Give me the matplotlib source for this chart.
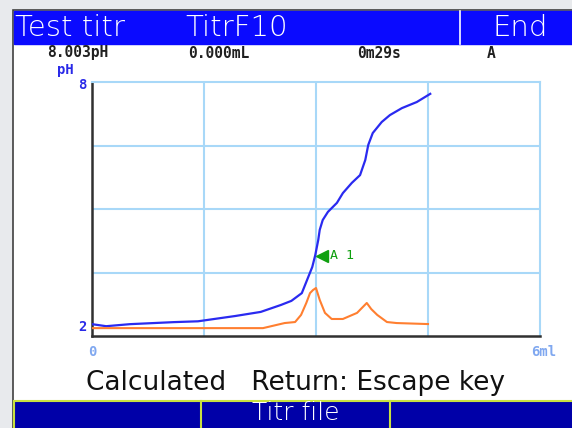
#!/usr/bin/env python3
import matplotlib

matplotlib.use("Agg")
import matplotlib.pyplot as plt  # noqa: E402
from matplotlib.patches import Rectangle  # noqa: E402
from matplotlib.transforms import ScaledTranslation  # noqa: E402

W, H = 572, 428

# titration curve (volume in mL, pH)
vol_ml = [0.00, 0.19, 0.51, 1.10, 1.42, 1.65, 1.92, 2.09, 2.26, 2.53, 2.67, 2.81,
          2.88, 2.95, 2.99, 3.03, 3.05, 3.09, 3.16, 3.28, 3.36, 3.48, 3.59, 3.66,
          3.70, 3.76, 3.88, 3.99, 4.15, 4.35, 4.53]
ph = [2.07, 2.02, 2.07, 2.12, 2.14, 2.20, 2.27, 2.32, 2.37, 2.54, 2.64, 2.83,
      3.15, 3.47, 3.76, 4.13, 4.38, 4.62, 4.82, 5.04, 5.28, 5.53, 5.72, 6.09,
      6.46, 6.75, 7.02, 7.19, 7.36, 7.51, 7.71]

# derivative curve (arbitrary units, 0-100 of plot height)
dvol_ml = [0.00, 2.29, 2.58, 2.72, 2.80, 2.87, 2.92, 2.96, 3.00, 3.05, 3.12, 3.21,
           3.36, 3.55, 3.64, 3.68, 3.74, 3.82, 3.95, 4.08, 4.50]
dph = [3.1, 3.1, 5.1, 5.5, 8.3, 13.0, 16.9, 18.1, 18.9, 14.2, 9.1, 6.7,
       6.7, 9.1, 11.8, 13.0, 10.6, 8.3, 5.5, 5.1, 4.7]

A1_ML, A1_PH = 3.0, 3.74

HEADER = ["Test titr", "TitrF10", "End"]
STATUS = ["8.003pH", "0.000mL", "0m29s", "A"]
FOOTER = "Calculated   Return: Escape key"
SOFTKEYS = ["", "Titr file", ""]


def fx(x):
    return x / W


def fy(y):
    return 1 - y / H


def rect(fig, x0, y0, x1, y1, **kw):
    fig.add_artist(Rectangle((fx(x0), fy(y1)), fx(x1) - fx(x0), fy(y0) - fy(y1),
                             transform=fig.transFigure, **kw))


def draw_screen(fig):
    rect(fig, 0, 0, W, H, color="#e8eaed", zorder=-5)
    rect(fig, 13, 10, W + 5, H + 5, facecolor="white", edgecolor="#404040", lw=1.2, zorder=-4)

    # header bar
    rect(fig, 14, 11, W + 5, 44, color="#0a0aff", zorder=-3)
    fig.add_artist(plt.Line2D([fx(460), fx(460)], [fy(11), fy(44)], color="white", lw=1.2,
                              transform=fig.transFigure))
    hk = dict(color="white", fontsize=21, va="center", fontweight=200)
    fig.text(fx(15), fy(28), HEADER[0], **hk)
    fig.text(fx(185), fy(28), HEADER[1], **hk)
    fig.text(fx(520), fy(28), HEADER[2], ha="center", **hk)

    sk = dict(color="#202020", fontsize=10.5, family="DejaVu Sans Mono", va="center",
              fontweight="bold")
    for x, s in zip([47, 188, 357, 487], STATUS):
        fig.text(fx(x), fy(53), s, **sk)

    fig.text(fx(296), fy(383), FOOTER, color="#111111", fontsize=19,
             ha="center", va="center")

    # soft key bar
    rect(fig, 14, 401, W + 5, H + 5, facecolor="#0000a8", edgecolor="#c8e040", lw=1.5, zorder=-3)
    for x in (201, 390):
        fig.add_artist(plt.Line2D([fx(x), fx(x)], [fy(401), fy(H)], color="#c8e040", lw=1.5,
                                  transform=fig.transFigure))
    for xc, s in zip([107, 296, 481], SOFTKEYS):
        fig.text(fx(xc), fy(413), s, color="white", fontsize=18, fontweight=200,
                 ha="center", va="center")


def draw_plot(fig):
    ax = fig.add_axes([fx(92), fy(336), fx(540) - fx(92), fy(82) - fy(336)])
    ax.set_xlim(0, 6)
    ax.set_ylim(1.78, 8)
    grid = "#a8d8f8"
    y0, y1 = ax.get_ylim()
    for f in (0.25, 0.5, 0.75):
        ax.axhline(y0 + f * (y1 - y0), color=grid, lw=1.5, zorder=1)
    for x in (1.5, 3.0, 4.5):
        ax.axvline(x, color=grid, lw=1.5, zorder=1)
    for side in ("top", "right"):
        ax.spines[side].set_color(grid)
        ax.spines[side].set_linewidth(1.5)
    for side in ("left", "bottom"):
        ax.spines[side].set_color("#303030")
        ax.spines[side].set_linewidth(1.8)
    ax.set_xticks([])
    ax.set_yticks([])

    ax.plot(vol_ml, ph, color="#2a2af0", lw=1.6, zorder=4)

    ax2 = ax.twinx()
    ax2.set_ylim(0, 100)
    ax2.axis("off")
    ax2.plot(dvol_ml, dph, color="#ff7f30", lw=1.5, zorder=3)

    off = ScaledTranslation(6 / 100, 0, fig.dpi_scale_trans)
    ax.plot([A1_ML], [A1_PH], marker="<", color="#10a010", markersize=8, ls="none",
            transform=ax.transData + off, zorder=5)
    ax.annotate("A 1", (A1_ML, A1_PH), xytext=(10, 0), textcoords="offset points",
                color="#10a010", fontsize=9.5, va="center", family="DejaVu Sans Mono")

    blue, light = "#2a2ae8", "#80a8f0"
    lk = dict(fontsize=10, family="DejaVu Sans Mono", va="center", fontweight="bold")
    fig.text(fx(57), fy(70), "pH", color=blue, **lk)
    fig.text(fx(78), fy(85), "8", color=blue, **lk)
    fig.text(fx(78), fy(327), "2", color=blue, **lk)
    fig.text(fx(88), fy(352), "0", color=light, **lk)
    fig.text(fx(556), fy(352), "6ml", color=light, ha="right", **lk)


def main():
    fig = plt.figure(figsize=(W / 100, H / 100), dpi=100)
    draw_screen(fig)
    draw_plot(fig)
    fig.savefig("out.png", dpi=100)
    plt.close(fig)


if __name__ == "__main__":
    main()
